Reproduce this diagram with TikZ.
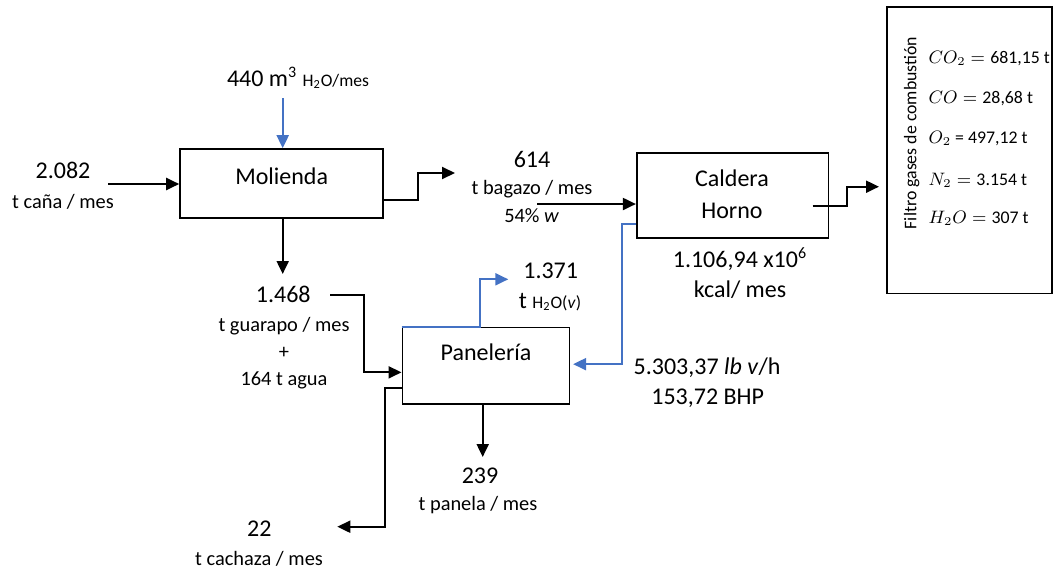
\documentclass[tikz,border=0pt]{standalone}
\usepackage{fontspec}
\setmainfont{Carlito}
\usepackage{xcolor}
\usetikzlibrary{arrows.meta,fit,calc}
\definecolor{azul}{HTML}{4472C4}
\newcommand{\grande}{\fontsize{12}{14}\selectfont}
\newcommand{\chica}{\fontsize{10.2}{12}\selectfont}
\newcommand{\mini}{\fontsize{8.8}{10}\selectfont}
\newcommand{\filtro}{\fontsize{8.9}{11}\selectfont}

\begin{document}
\begin{tikzpicture}[x=0.5pt,y=-0.5pt,>={Triangle[length=6.5pt,width=6pt]},
  caja/.style={draw,line width=0.8pt,inner sep=0pt},
  flujo/.style={->,line width=1pt},
  vapor/.style={->,line width=1pt,azul},
  num/.style={inner sep=0pt,font=\grande},
  uni/.style={inner sep=0pt,font=\chica},
  fml/.style={inner sep=0pt,anchor=west,font=\filtro}]
  \useasboundingbox (0,0) rectangle (1055,569);

  % equipos
  \node[caja,fit={(180,149) (383,218)}] (mol) {};
  \node[caja,fit={(636.7,152.7) (828.3,237.7)}] (cal) {};
  \node[caja,fit={(402.3,327.3) (569.3,404)}] (pan) {};
  \node[caja,fit={(886.7,6.7) (1051.7,293.3)}] (fil) {};
  \node[num] (molt) at (281.7,176) {Molienda};
  \node[num] (calt) at (732,178) {Caldera};
  \node[num] (calt2) at (732,211) {Horno};
  \node[num] (pant) at (486,352.7) {Panelería};

  % corrientes
  \coordinate (aguaini) at (282.7,98);
  \coordinate (canaini) at (108,184);
  \coordinate (bagfin) at (455,173);
  \coordinate (bagini) at (537,204);
  \coordinate (gasfin) at (879,186.7);
  \coordinate (guafin) at (282.7,274);
  \coordinate (guaini) at (330,295);
  \coordinate (vapfin) at (508.3,279.3);
  \coordinate (panfin) at (482.7,457);
  \coordinate (cachfin) at (337.3,526.7);
  \draw[vapor] (aguaini) -- (aguaini |- mol.north);
  \draw[flujo] (canaini) -- (canaini -| mol.west);
  \draw[flujo] ($(mol.east)+(0,16.5)$) -- ++(34,0) |- (bagfin);
  \draw[flujo] (bagini) -- (bagini -| cal.west);
  \draw[flujo] ($(cal.east)+(-16.6,10.5)$) -- ++(34,0) |- (gasfin);
  \draw[vapor] ($(cal.west)+(0,29.1)$) -- ++(-14.4,0) |- ($(pan.east)+(3,-1.5)$);
  \draw[flujo] (guafin |- mol.south) -- (guafin);
  \draw[flujo] (guaini) -- ++(34.3,0) |- ($(pan.west)+(0,6.7)$);
  \draw[vapor] (pan.north west) -- ++(78.4,0) |- (vapfin);
  \draw[flujo] (panfin |- pan.south) -- (panfin);
  \draw[flujo] ($(pan.west)+(0,22)$) -- ++(-16.3,0) |- (cachfin);

  % etiquetas
  \node[num] (agua) at (298,78) {440 m\textsuperscript{3} {\mini H\textsubscript{2}O/mes}};
  \node[num] (cana) at (63,170.7) {2.082};
  \node[uni] (canau) at (63,201.7) {t caña / mes};
  \node[num] (bag) at (532,159) {614};
  \node[uni] (bagu) at (532,189) {t bagazo / mes};
  \node[uni] (bagw) at (531.7,216) {54\% \textit{w}};
  \node[num] (calor) at (740,259.3) {1.106,94 x10\textsuperscript{6}};
  \node[num] (caloru) at (740,289.3) {kcal/ mes};
  \node[num] (vap) at (707,367.7) {5.303,37 \textit{lb v}/h};
  \node[num] (bhp) at (707.7,398.3) {153,72 BHP};
  \node[num] (vsal) at (550.7,270.7) {1.371};
  \node[num] (vsalu) at (550,301.7) {t {\mini H\textsubscript{2}O(\textit{v})}};
  \node[num] (gua) at (283.3,294.3) {1.468};
  \node[uni] (guau) at (284,326) {t guarapo / mes};
  \node[uni] (mas) at (284,352.7) {+};
  \node[uni] (aguau) at (284,380) {164 t agua};
  \node[num] (panela) at (480,476) {239};
  \node[uni] (panelau) at (478,505) {t panela / mes};
  \node[num] (cach) at (259.3,528.3) {22};
  \node[uni] (cachu) at (259,559) {t cachaza / mes};

  % gases
  \node[rotate=90,inner sep=0pt,font=\filtro] (filt) at (911.7,133) {Filtro gases de combustión};
  \node[fml] (co2) at (928.3,58.3) {$CO_2 = {}$681,15 t};
  \node[fml] (co) at (928.3,98.3) {$CO = {}$28,68 t};
  \node[fml] (o2) at (928.3,138.3) {$O_2$ = 497,12 t};
  \node[fml] (n2) at (928.3,180) {$N_2 = {}$3.154 t};
  \node[fml] (h2o) at (928.3,218.3) {$H_2O = {}$307 t};
\end{tikzpicture}
\end{document}
